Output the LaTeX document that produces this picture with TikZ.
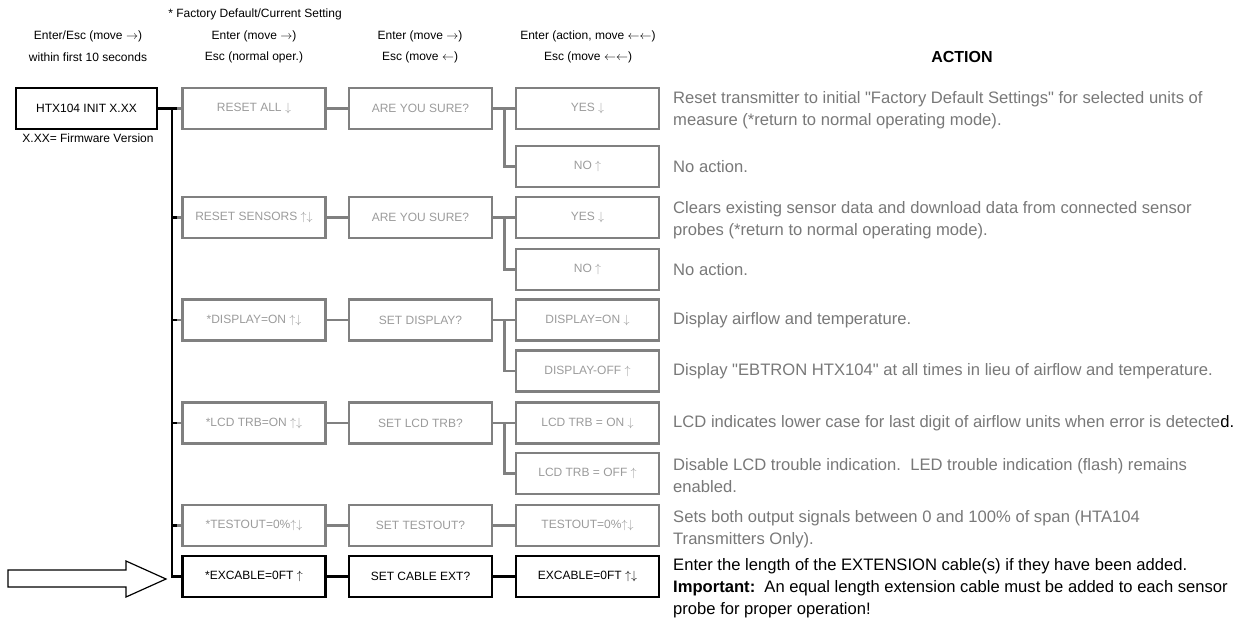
\documentclass[tikz,border=0pt]{standalone}
\usepackage{fontspec}
\setmainfont{Liberation Sans}
\newfontfamily\plainfont{Liberation Sans}
\usepackage{tikz}

\definecolor{boxgray}{RGB}{128,128,128}
\definecolor{txtgray}{RGB}{155,155,155}
\definecolor{actgray}{RGB}{120,120,120}
\newcommand{\ua}{$\uparrow$}
\newcommand{\da}{$\downarrow$}
\newcommand{\ud}{$\uparrow\downarrow$}
\newcommand{\rgt}{$\rightarrow$}
\newcommand{\lft}{$\leftarrow$}
\newcommand{\dq}{{\plainfont"}}

\begin{document}
\begin{tikzpicture}[x=1pt,y=-1pt,
  gbox/.style={draw=boxgray,line width=2.6pt,minimum width=143pt,minimum height=41pt,inner sep=0pt,text=txtgray,font=\fontsize{12}{14}\selectfont},
  kbox/.style={gbox,draw=black,text=black},
  gline/.style={boxgray,line width=2.6pt},
  kline/.style={black,line width=2.4pt},
  hdr/.style={inner sep=0pt,font=\fontsize{12}{14}\selectfont},
  act/.style={anchor=west,align=left,inner sep=0pt,text=actgray,font=\fontsize{16.6}{22}\selectfont}]
\useasboundingbox (0,0) rectangle (1248,619);
% column headings
\node (fds) at (255,14) [hdr] {* Factory Default/Current Setting};
\node (h0a) at (88,36) [hdr] {Enter/Esc (move \rgt)};
\node (h0b) at (88,57) [hdr] {within first 10 seconds};
\node (h1a) at (254,36) [hdr] {Enter (move \rgt)};
\node (h1b) at (254,57) [hdr] {Esc (normal oper.)};
\node (h2a) at (420,36) [hdr] {Enter (move \rgt)};
\node (h2b) at (420,57) [hdr] {Esc (move \lft)};
\node (h3a) at (588,36) [hdr] {Enter (action, move \lft\lft)};
\node (h3b) at (588,57) [hdr] {Esc (move \lft\lft)};
\node (acthdr) at (962,57) [inner sep=0pt,font=\fontsize{16}{18}\selectfont\bfseries] {ACTION};
% start box
\node (init) at (86.5,108.5) [kbox,minimum width=141pt] {HTX104 INIT X.XX};
\node (fw) at (88,138) [hdr] {X.XX= Firmware Version};
% menu boxes
\node (resetall) at (254,108.5) [gbox] {RESET ALL \da};
\node (sure1) at (420.5,108.5) [gbox] {ARE YOU SURE?};
\node (yes1) at (587.5,108.5) [gbox] {YES \da};
\node (no1) at (587.5,166.5) [gbox] {NO \ua};
\node (resetsens) at (254,217.5) [gbox] {RESET SENSORS \ud};
\node (sure2) at (420.5,217.5) [gbox] {ARE YOU SURE?};
\node (yes2) at (587.5,217.5) [gbox] {YES \da};
\node (no2) at (587.5,269.5) [gbox] {NO \ua};
\node (disp) at (254,320) [gbox] {*DISPLAY=ON \ud};
\node (setdisp) at (420.5,320) [gbox] {SET DISPLAY?};
\node (dispon) at (587.5,320) [gbox] {DISPLAY=ON \da};
\node (dispoff) at (587.5,371) [gbox] {DISPLAY-OFF \ua};
\node (lcd) at (254,423) [gbox] {*LCD TRB=ON \ud};
\node (setlcd) at (420.5,423) [gbox] {SET LCD TRB?};
\node (lcdon) at (587.5,423) [gbox] {LCD TRB = ON \da};
\node (lcdoff) at (587.5,473.5) [gbox] {LCD TRB = OFF \ua};
\node (test) at (254,525.5) [gbox] {*TESTOUT=0\%\ud};
\node (settest) at (420.5,525.5) [gbox] {SET TESTOUT?};
\node (testval) at (587.5,525.5) [gbox] {TESTOUT=0\%\ud};
\node (excab) at (254,576.5) [kbox] {*EXCABLE=0FT \ua};
\node (setcab) at (420.5,576.5) [kbox] {SET CABLE EXT?};
\node (excabval) at (587.5,576.5) [kbox] {EXCABLE=0FT \ud};
% connectors
\coordinate (top) at (172,108.5);
\coordinate (bot) at (172,576.5);
\foreach \n in {resetall,resetsens,disp,lcd,test}
  \draw[gline] (\n.west) -- (\n.west -| top);
\foreach \a/\b in {resetall/sure1,resetsens/sure2,disp/setdisp,lcd/setlcd,test/settest,sure1/yes1,sure2/yes2,setdisp/dispon,setlcd/lcdon,settest/testval}
  \draw[gline] (\a) -- (\b);
\foreach \a/\b in {sure1/no1,sure2/no2,setdisp/dispoff,setlcd/lcdoff}
  \draw[gline] (\a.east) -- ++(11,0) |- (\b.west);
\draw[kline] (init.east) -- (top) -- (bot) -- (excab.west);
\draw[kline] (excab) -- (setcab);
\draw[kline] (setcab) -- (excabval);
\foreach \n in {resetall,resetsens,disp,lcd,test}
  \draw[kline] (\n.west -| top) -- ++(5,0);
% pointer arrow
\draw[line width=1.2pt,fill=white] (8,570) -- (126,570) -- (126,561) -- (166,579) -- (126,597) -- (126,587) -- (8,587) -- cycle;
% action texts
\node (act1) at (673,110) [act] {Reset transmitter to initial \dq Factory Default Settings\dq{} for selected units of\\measure (*return to normal operating mode).};
\node (act2) at (673,166.5) [act] {No action.};
\node (act3) at (673,220) [act] {Clears existing sensor data and download data from connected sensor\\probes (*return to normal operating mode).};
\node (act4) at (673,270) [act] {No action.};
\node (act5) at (673,320) [act] {Display airflow and temperature.};
\node (act6) at (673,371) [act] {Display \dq EBTRON HTX104\dq{} at all times in lieu of airflow and temperature.};
\node (act7) at (673,423) [act] {LCD indicates lower case for last digit of airflow units when error is detecte\textcolor{black}{d.}};
\node (act8) at (673,476) [act] {Disable LCD trouble indication.\ \ LED trouble indication (flash) remains\\enabled.};
\node (act9) at (673,529) [act] {Sets both output signals between 0 and 100\% of span (HTA104\\Transmitters Only).};
\node (act10) at (673,588) [act,text=black] {Enter the length of the EXTENSION cable(s) if they have been added.\\\textbf{Important:}\ \ An equal length extension cable must be added to each sensor\\probe for proper operation!};
\end{tikzpicture}
\end{document}
